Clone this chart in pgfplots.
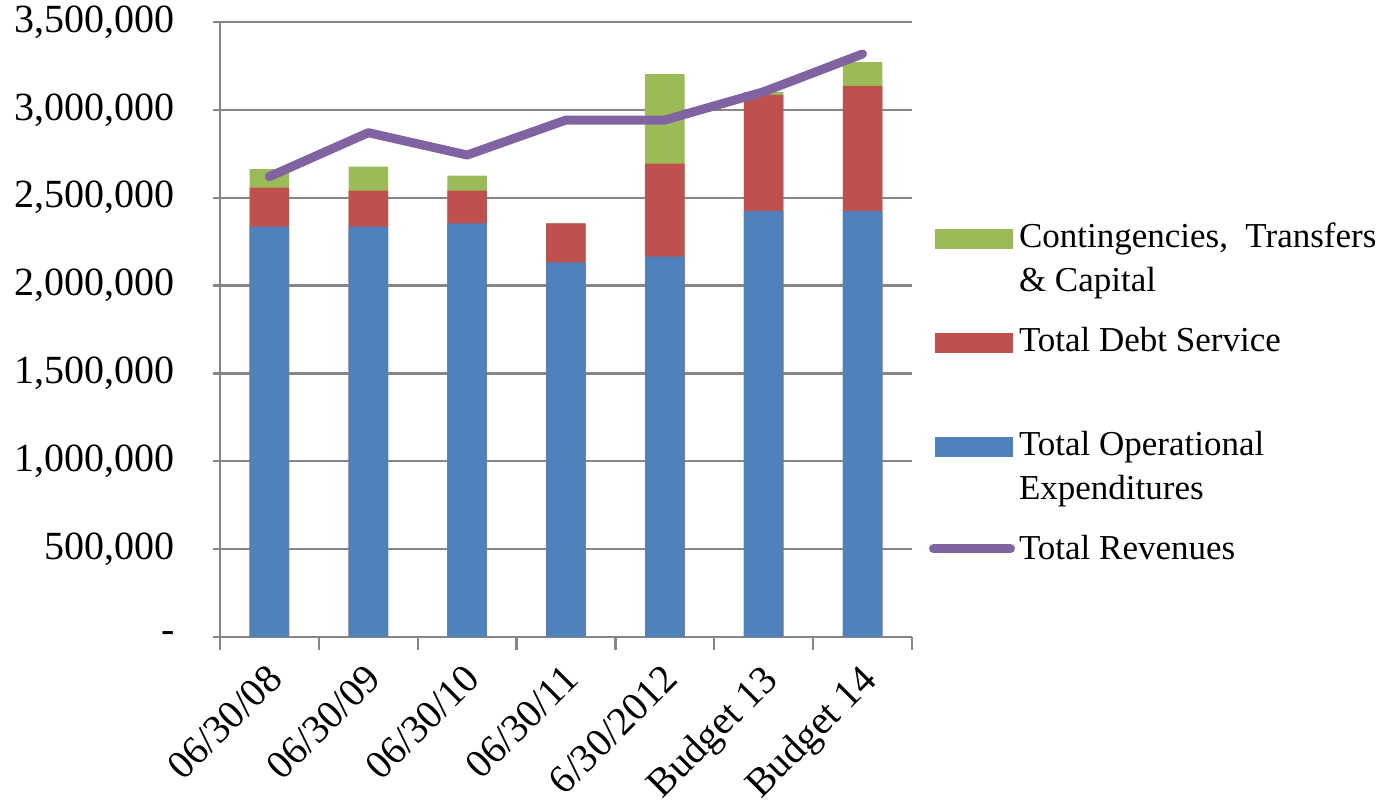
\documentclass[border=0pt]{standalone}
\usepackage{pgfplots}
\pgfplotsset{compat=1.18}
\usepackage{fontspec}
\setmainfont{Liberation Serif}
\definecolor{cblue}{HTML}{4F81BD}
\definecolor{cred}{HTML}{C0504D}
\definecolor{cgreen}{HTML}{9BBB59}
\definecolor{cpurple}{HTML}{8064A2}
\definecolor{cgrid}{HTML}{868686}
\begin{document}
\begin{tikzpicture}
\begin{axis}[
  name=ax,
  scale only axis,
  width=346pt, height=307.5pt,
  xmin=-0.5, xmax=6.5,
  ymin=0, ymax=3500000,
  axis x line*=bottom, axis y line*=left,
  axis line style={cgrid, line width=1.1pt, -},
  xtick={0,1,2,3,4,5,6},
  xticklabels={06/30/08,06/30/09,06/30/10,06/30/11,6/30/2012,Budget 13,Budget 14},
  minor xtick={-0.5,0.5,1.5,2.5,3.5,4.5,5.5,6.5},
  ytick={0,500000,1000000,1500000,2000000,2500000,3000000,3500000},
  yticklabels={-,{500,000},{1,000,000},{1,500,000},{2,000,000},{2,500,000},{3,000,000},{3,500,000}},
  scaled y ticks=false,
  tick align=outside,
  major tick length=3.5pt,
  minor tick length=6.5pt,
  xtick style={draw=none},
  minor x tick style={draw=cgrid, line width=1.1pt},
  ytick style={draw=cgrid, line width=1.1pt},
  ymajorgrids,
  major grid style={cgrid, line width=1.1pt},
  tick label style={font=\fontsize{20}{24}\selectfont},
  yticklabel style={inner sep=0pt, xshift=-19pt},
  xticklabel style={inner sep=0pt, xshift=-2pt, yshift=-9pt, rotate=45, anchor=north east},
  legend style={
    at={(axis description cs:1,1)}, anchor=north west,
    xshift=8.5pt, yshift=-97pt,
    draw=none, fill=none, inner sep=0pt, outer sep=0pt,
    font=\fontsize{17.5}{22}\selectfont,
    row sep=32.5pt, column sep=0pt,
    cells={anchor=base west, inner sep=0pt, text depth=0pt, text height=14pt},
  },
]
\addplot[ybar, bar width=19.75pt, bar shift=0pt, fill=cgreen, draw=none,
  legend image code/.code={\path[fill=cgreen] (0pt,-0.5pt) rectangle (39pt,9.5pt);}]
  coordinates {(0,2662000) (1,2677000) (2,2625000) (3,2354000) (4,3204000) (5,3102000) (6,3272000)};
\addlegendentry{\begin{tabular}[t]{@{}l@{}}Contingencies,\ \ Transfers\\\& Capital\end{tabular}}
\addplot[ybar, bar width=19.75pt, bar shift=0pt, fill=cred, draw=none,
  legend image code/.code={\path[fill=cred] (0pt,-0.5pt) rectangle (39pt,9.5pt);}]
  coordinates {(0,2557000) (1,2540000) (2,2540000) (3,2354000) (4,2694000) (5,3085000) (6,3136000)};
\addlegendentry{Total Debt Service}
\addplot[ybar, bar width=19.75pt, bar shift=0pt, fill=cblue, draw=none,
  legend image code/.code={\path[fill=cblue] (0pt,-0.5pt) rectangle (39pt,9.5pt);}]
  coordinates {(0,2335000) (1,2335000) (2,2354000) (3,2132000) (4,2164000) (5,2423000) (6,2423000)};
\addlegendentry{\begin{tabular}[t]{@{}l@{}}Total Operational\\Expenditures\end{tabular}}
\addplot[cpurple, line width=4.5pt, line cap=round, line join=round, mark=none,
  legend image code/.code={\draw[cpurple, line width=4.5pt, line cap=round] (-0.75pt,5.6pt) -- (37.75pt,5.6pt);}]
  coordinates {(0,2620000) (1,2870000) (2,2743000) (3,2942000) (4,2942000) (5,3103000) (6,3318000)};
\addlegendentry{Total Revenues}
\end{axis}
\pgfresetboundingbox
\path ([xshift=-110pt,yshift=-85pt]ax.south west) rectangle ([xshift=233.5pt,yshift=11pt]ax.north east);
\end{tikzpicture}
\end{document}
